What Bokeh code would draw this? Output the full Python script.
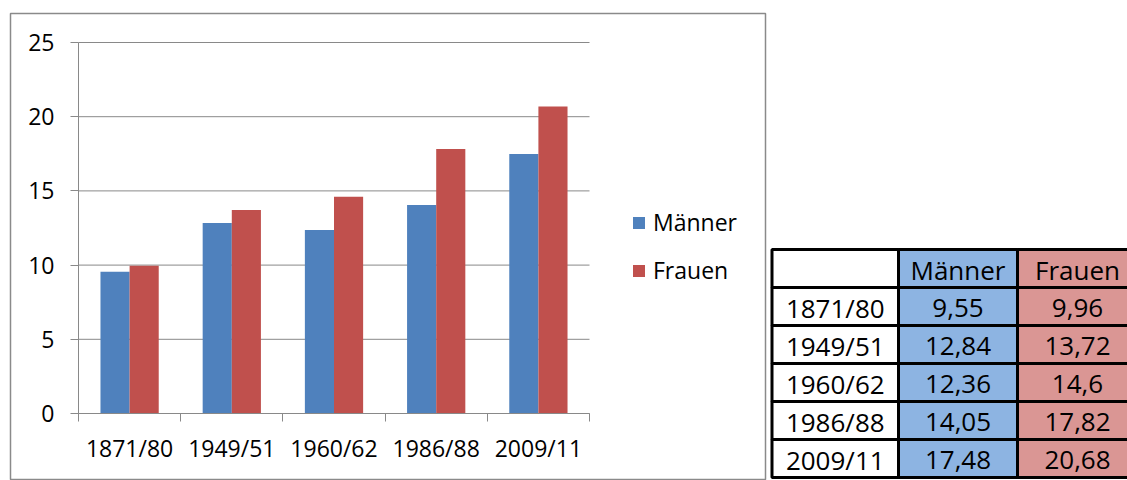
from bokeh.plotting import figure
from bokeh.models import (Range1d, FixedTicker, Legend, LegendItem, ColumnDataSource)
from bokeh.embed import file_html
from bokeh.resources import INLINE
from bokeh.core.properties import value

# ---------------- data ----------------
categories = ["1871/80", "1949/51", "1960/62", "1986/88", "2009/11"]
maenner = [9.55, 12.84, 12.36, 14.05, 17.48]
frauen = [9.96, 13.72, 14.6, 17.82, 20.68]
series_names = ["Männer", "Frauen"]
y_ticks = [0, 5, 10, 15, 20, 25]

# ---------------- layout / style ----------------
W, H = 1127, 480
PLOT_L, PLOT_R, PLOT_T, PLOT_B = 78, 589, 42, 413   # pixel box of the bar chart
Y_MAX = 25
FONT = "Open Sans"
BLUE = "#4F81BD"
RED = "#C0504D"
BLUE_L = "#8DB4E2"
RED_L = "#DA9694"
GRID = "#898989"
BAR_W = 0.285

n = len(categories)
sx = (PLOT_R - PLOT_L) / n          # px per category
sy = (PLOT_B - PLOT_T) / Y_MAX      # px per unit
x_range = Range1d(-PLOT_L / sx, n + (W - PLOT_R) / sx)
y_range = Range1d(-(H - PLOT_B) / sy, Y_MAX + PLOT_T / sy)

centers = [i + 0.5 for i in range(n)]
src = ColumnDataSource(dict(
    xm=[c - BAR_W / 2 for c in centers],
    xf=[c + BAR_W / 2 for c in centers],
    m=maenner, f=frauen, cat=categories))

p = figure(width=W, height=H, x_range=x_range, y_range=y_range,
           output_backend="svg", toolbar_location=None, min_border=0)
p.outline_line_color = None
p.background_fill_color = "white"
p.border_fill_color = "white"
p.xgrid.visible = False
p.ygrid.visible = False

# pixel coordinate system for the frame box and the table
p.extra_x_ranges = {"px": Range1d(0, W)}
p.extra_y_ranges = {"px": Range1d(H, 0)}

# horizontal grid lines over the category span
p.segment(x0=[0] * len(y_ticks), x1=[n] * len(y_ticks), y0=y_ticks, y1=y_ticks,
          line_color=GRID, line_width=1)

rm = p.vbar(x="xm", top="m", bottom=0, width=BAR_W, source=src,
            fill_color=BLUE, line_color=None)
rf = p.vbar(x="xf", top="f", bottom=0, width=BAR_W, source=src,
            fill_color=RED, line_color=None)

# x axis: labels at category centres, tick marks at category boundaries
xa = p.xaxis[0]
xa.fixed_location = 0
xa.bounds = (0, n)
xa.ticker = FixedTicker(ticks=centers, minor_ticks=list(range(n + 1)))
xa.major_label_overrides = {c: cat for c, cat in zip(centers, categories)}
xa.major_tick_line_color = None
xa.major_tick_out = 0
xa.major_tick_in = 0
xa.minor_tick_line_color = GRID
xa.minor_tick_out = 8
xa.minor_tick_in = 0
xa.axis_line_color = GRID
xa.major_label_text_font = FONT
xa.major_label_text_font_size = "23px"
xa.major_label_text_color = "black"
xa.major_label_standoff = 10

ya = p.yaxis[0]
ya.fixed_location = 0
ya.bounds = (0, Y_MAX)
ya.ticker = FixedTicker(ticks=y_ticks)
ya.major_tick_out = 8
ya.major_tick_in = 0
ya.major_tick_line_color = GRID
ya.minor_tick_line_color = None
ya.axis_line_color = GRID
ya.major_label_text_font = FONT
ya.major_label_text_font_size = "23px"
ya.major_label_text_color = "black"
ya.major_label_standoff = 16

legend = Legend(
    items=[LegendItem(label=series_names[0], renderers=[rm]),
           LegendItem(label=series_names[1], renderers=[rf])],
    location=(631, 194), orientation="vertical",
    border_line_color=None, background_fill_alpha=0,
    padding=0, margin=0, spacing=16,
    glyph_width=15, glyph_height=15, label_height=32, label_standoff=7,
    label_text_font=FONT, label_text_font_size="23px",
    label_text_color="black")
p.add_layout(legend)

# chart frame border
p.quad(left=[10], right=[765], top=[13], bottom=[479], fill_color=None,
       line_color="#8a8a8a", line_width=1.5,
       x_range_name="px", y_range_name="px")

# ---------------- table ----------------
COL_EDGES = [771.5, 898, 1017, 1137]
ROW_TOP = 249
ROW_H = 38


def fmt(v):
    return str(v).replace(".", ",")


header = [""] + series_names
rows = [header] + [[c, fmt(a), fmt(b)] for c, a, b in zip(categories, maenner, frauen)]
col_fills = ["white", BLUE_L, RED_L]

L, R, T, B, F, TX, XC, YC = [], [], [], [], [], [], [], []
for ri, r in enumerate(rows):
    for ci, txt in enumerate(r):
        L.append(COL_EDGES[ci])
        R.append(COL_EDGES[ci + 1])
        T.append(ROW_TOP + ri * ROW_H)
        B.append(ROW_TOP + (ri + 1) * ROW_H)
        F.append(col_fills[ci] if ri > 0 or ci > 0 else "white")
        TX.append(txt)
        XC.append((COL_EDGES[ci] + COL_EDGES[ci + 1]) / 2)
        YC.append(ROW_TOP + (ri + 0.5) * ROW_H + 1)

tsrc = ColumnDataSource(dict(l=L, r=R, t=T, b=B, fill=F, txt=TX, xc=XC, yc=YC))
p.quad(left="l", right="r", top="t", bottom="b", fill_color="fill",
       line_color="black", line_width=3, source=tsrc,
       x_range_name="px", y_range_name="px")
p.text(x="xc", y="yc", text="txt", source=tsrc, text_font=value(FONT),
       text_font_size="26px", text_align="center", text_baseline="middle",
       text_color="black", x_range_name="px", y_range_name="px")

open("out.html", "w").write(file_html(p, INLINE))
